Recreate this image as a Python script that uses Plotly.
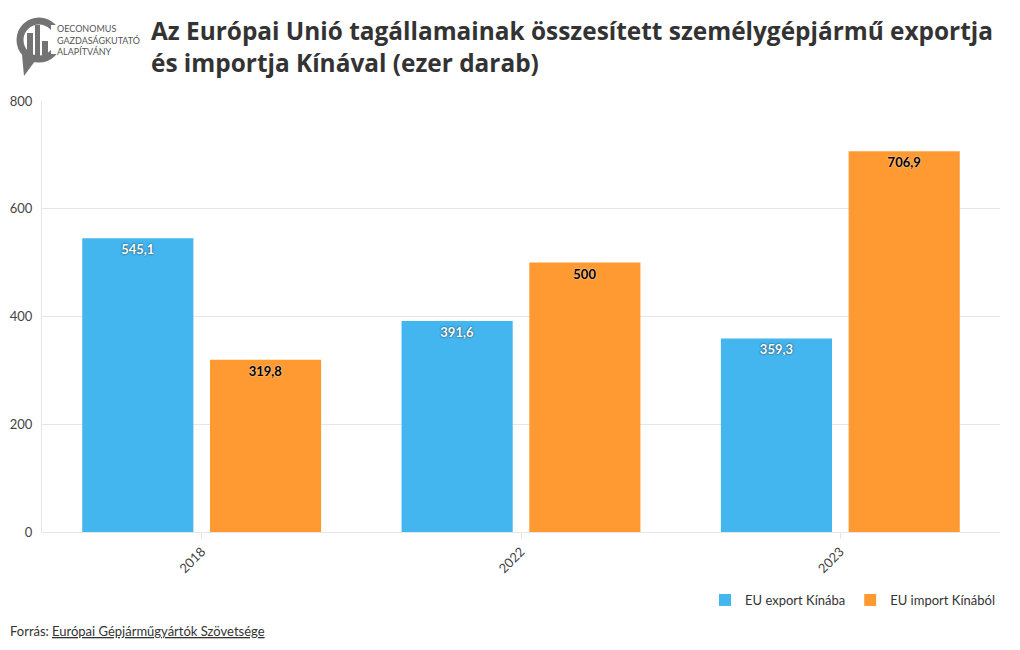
import plotly.graph_objects as go

categories = ["2018", "2022", "2023"]
export_vals = [545.1, 391.6, 359.3]
import_vals = [319.8, 500, 706.9]
series_names = ["EU export Kínába", "EU import Kínából"]
y_ticks = [0, 200, 400, 600, 800]

W, H = 1020, 650
L, R, T, B = 42, 20, 101, 118
FONT = "Lato"
TFONT = "Open Sans"

def fmt(v):
    s = f"{v:g}"
    return s.replace(".", ",")

def px(x):
    return (x - L) / (W - L - R)

def py(y):
    return (H - B - y) / (H - T - B)

fig = go.Figure()
fig.add_trace(go.Bar(
    x=categories, y=export_vals, name=series_names[0],
    marker=dict(color="rgb(67,181,239)", line=dict(width=0)),
    text=[fmt(v) for v in export_vals], textposition="inside",
    insidetextanchor="end", textangle=0,
    textfont=dict(family=FONT, size=13, color="white", weight="bold",
                  shadow="0px 0px 2px rgba(0,0,0,0.8)"),
))
fig.add_trace(go.Bar(
    x=categories, y=import_vals, name=series_names[1],
    marker=dict(color="rgb(255,154,51)", line=dict(width=0)),
    text=[fmt(v) for v in import_vals], textposition="inside",
    insidetextanchor="end", textangle=0,
    textfont=dict(family=FONT, size=13, color="black", weight="bold",
                  shadow="0px 0px 2px rgba(255,255,255,0.8)"),
))

LOGO = "#737373"
shapes = []
cx, cy, r = 39, 40, 19
shapes.append(dict(type="circle", xref="paper", yref="paper",
                   x0=px(cx - r), x1=px(cx + r), y0=py(cy + r), y1=py(cy - r),
                   line=dict(color=LOGO, width=7), fillcolor="rgba(0,0,0,0)", layer="above"))
shapes.append(dict(type="rect", xref="paper", yref="paper",
                   x0=px(51), x1=px(63), y0=py(54), y1=py(25),
                   line=dict(width=0), fillcolor="white", layer="above"))
shapes.append(dict(type="path", xref="paper", yref="paper",
                   path=f"M {px(22)},{py(55)} L {px(24)},{py(76)} L {px(35)},{py(61)} Z",
                   line=dict(width=0), fillcolor=LOGO, layer="above"))
for bx0, bx1, by in [(27, 33, 33), (35, 40, 25), (42, 48, 41)]:
    shapes.append(dict(type="rect", xref="paper", yref="paper",
                       x0=px(bx0), x1=px(bx1), y0=py(61), y1=py(by),
                       line=dict(width=0), fillcolor=LOGO, layer="above"))

annotations = [
    dict(text="OECONOMUS<br>GAZDASÁGKUTATÓ<br>ALAPÍTVÁNY", xref="paper", yref="paper",
         x=px(55), y=py(40), xanchor="left", yanchor="middle", align="left",
         showarrow=False, font=dict(family=FONT, size=9, color="#555")),
    dict(text="<b>Az Európai Unió tagállamainak összesített személygépjármű exportja<br>és importja Kínával (ezer darab)</b>",
         xref="paper", yref="paper", x=px(149), y=py(46), xanchor="left", yanchor="middle",
         align="left", showarrow=False, font=dict(family=TFONT, size=24.4, color="#333")),
    dict(text="Forrás:", xref="paper", yref="paper", x=px(8), y=py(631),
         xanchor="left", yanchor="middle", showarrow=False,
         font=dict(family=FONT, size=13, color="#333")),
    dict(text="Európai Gépjárműgyártók Szövetsége", xref="paper", yref="paper", x=px(50), y=py(631),
         xanchor="left", yanchor="middle", showarrow=False,
         font=dict(family=FONT, size=13, color="#333", lineposition="under")),
]

fig.update_layout(
    width=W, height=H,
    margin=dict(l=L, r=R, t=T, b=B, autoexpand=False),
    paper_bgcolor="white", plot_bgcolor="white",
    font=dict(family=FONT, size=12, color="#444"),
    barmode="group", bargap=0.2, bargroupgap=0.13,
    showlegend=True,
    legend=dict(orientation="h", x=1.0, xanchor="right", yref="container", y=(H - 600) / H,
                yanchor="middle", font=dict(family=FONT, size=13, color="#333"),
                traceorder="normal", itemwidth=30),
    xaxis=dict(tickangle=-45, showgrid=False, showline=True, linecolor="#e6e6e6",
               ticks="outside", ticklen=6, tickcolor="#e6e6e6", automargin=False,
               tickfont=dict(family=FONT, size=13, color="#444")),
    yaxis=dict(range=[0, 800], tickvals=y_ticks, gridcolor="#e6e6e6", zeroline=False,
               showline=True, linecolor="#e6e6e6", ticks="outside", ticklen=6, tickcolor="white",
               automargin=False,
               tickfont=dict(family=FONT, size=13, color="#444")),
    shapes=shapes, annotations=annotations,
    uniformtext=dict(mode=False),
)

fig.write_html("out.html")
